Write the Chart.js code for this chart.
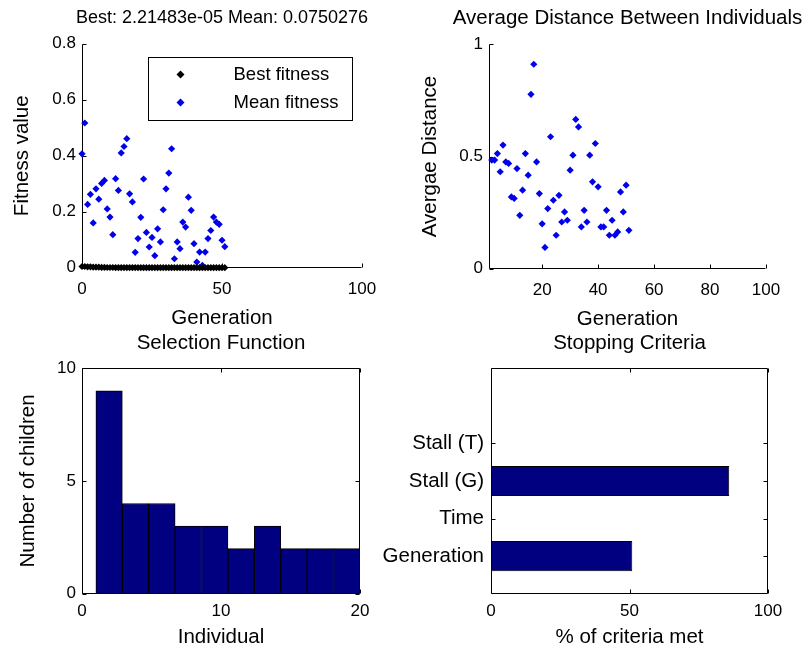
<!DOCTYPE html>
<html><head><meta charset="utf-8">
<script src="https://cdn.jsdelivr.net/npm/chart.js@4.4.1/dist/chart.umd.min.js"></script>
<style>
html,body{margin:0;padding:0;background:#fff;}
body{width:812px;height:653px;overflow:hidden;position:relative;}
canvas{position:absolute;}
</style></head><body>
<canvas id="fitness"></canvas>
<canvas id="distance"></canvas>
<canvas id="selection"></canvas>
<canvas id="stopping"></canvas>
<script>
// ---------------- data ----------------
const generations = [0,1,2,3,4,5,6,7,8,9,10,11,12,13,14,15,16,17,18,19,20,21,22,23,24,25,26,27,28,29,30,31,32,33,34,35,36,37,38,39,40,41,42,43,44,45,46,47,48,49,50,51];
const bestFitness = [0.0042,0.0042,0.0031,0.0031,0.0018,0.0018,0.0018,0.0011,0.0011,0.0008,0.0008,0.0008,0.0006,0.0006,0.0004,0.0004,0.0004,0.0003,0.0003,0.0003,0.0002,0.0002,0.0002,0.0002,0.0001,0.0001,0.0001,0.0001,0.0001,0.00008,0.00008,0.00008,0.00006,0.00006,0.00005,0.00005,0.00004,0.00004,0.00004,0.00003,0.00003,0.00003,0.00003,0.00003,0.00002,0.00002,0.00002,0.00002,0.00002,0.00002,0.00002,0.0000221483];
const meanFitness = [0.407,0.517,0.226,0.262,0.160,0.282,0.245,0.301,0.312,0.210,0.181,0.118,0.318,0.276,0.410,0.433,0.461,0.264,0.235,0.055,0.104,0.180,0.317,0.126,0.074,0.108,0.043,0.139,0.092,0.207,0.282,0.338,0.425,0.032,0.092,0.068,0.163,0.145,0.252,0.205,0.086,0.020,0.056,0.008,0.056,0.104,0.133,0.181,0.163,0.155,0.098,0.075];
const distanceGenerations = [2,3,4,5,6,7,8,9,10,11,12,13,14,15,16,17,18,19,20,21,22,23,24,25,26,27,28,29,30,31,32,33,34,35,36,37,38,39,40,41,42,43,44,45,46,47,48,49,50,51];
const averageDistance = [0.484,0.484,0.513,0.432,0.551,0.476,0.469,0.320,0.313,0.446,0.238,0.350,0.513,0.417,0.777,0.911,0.476,0.335,0.200,0.095,0.268,0.588,0.305,0.149,0.327,0.208,0.253,0.216,0.439,0.506,0.665,0.632,0.186,0.260,0.208,0.506,0.387,0.558,0.365,0.186,0.186,0.260,0.149,0.216,0.149,0.164,0.342,0.253,0.372,0.171];
const individualBins = [1.95,3.85,5.75,7.65,9.55,11.45,13.35,15.25,17.15,19.05];
const childrenCounts = [9,4,4,3,3,2,3,2,2,2];
const stoppingCriteria = ['Generation','Time','Stall (G)','Stall (T)'];
const criteriaMet = [51,0,86,0];

// ---------------- style ----------------
const FAMILY = '"Liberation Sans", Arial, Helvetica, sans-serif';
const NUM = {family: FAMILY, size: 17, weight: 'normal'};
const WORD = {family: FAMILY, size: 20.5, weight: 'normal'};
const HEAD = {family: FAMILY, size: 18, weight: 'normal'};
const lh = f => f.size * 1.2;
Chart.defaults.font.family = FAMILY;
Chart.defaults.font.size = NUM.size;
Chart.defaults.color = '#000';
const BLUE = 'rgb(0,0,235)', NAVY = '#000080';

// MATLAB style axes: lines, optional box, inward tick marks
const framePlugin = {
  id: 'frame',
  beforeDatasetsDraw(chart, args, o) {
    const {ctx, chartArea: a, scales} = chart;
    const L = Math.round(a.left) + 0.5, R = Math.round(a.right) - 0.5;
    const T = Math.round(a.top) + 0.5, B = Math.round(a.bottom) - 0.5;
    const tl = o.tickLen || 4;
    ctx.save();
    ctx.strokeStyle = '#000'; ctx.lineWidth = 1;
    ctx.beginPath();
    ctx.moveTo(L, T); ctx.lineTo(L, B); ctx.lineTo(R, B);
    if (o.box) { ctx.lineTo(R, T); ctx.lineTo(L, T); }
    const xs = scales.x, ys = scales.y;
    xs.ticks.forEach(t => {
      if (t.label === '') return;
      const px = Math.round(xs.getPixelForValue(t.value)) + 0.5;
      ctx.moveTo(px, B); ctx.lineTo(px, B - tl);
      if (o.box) { ctx.moveTo(px, T); ctx.lineTo(px, T + tl); }
    });
    ys.ticks.forEach(t => {
      if (t.label === '') return;
      const py = Math.round(ys.getPixelForValue(t.value)) + 0.5;
      ctx.moveTo(L, py); ctx.lineTo(L + tl, py);
      if (o.box) { ctx.moveTo(R, py); ctx.lineTo(R - tl, py); }
    });
    ctx.stroke();
    ctx.restore();
  }
};
Chart.register(framePlugin);

const numLabel = v => String(+Number(v).toFixed(3));

function panel(p) {
  const cv = document.getElementById(p.id);
  const canvasLeft = p.box.x - p.L;
  const w = 2 * p.L + p.box.w;
  cv.width = w; cv.height = 420;
  const titleFont = p.titleFont || WORD;
  const x = Object.assign({
    type: 'linear', position: 'bottom', offset: false,
    border: {display: false}, grid: {display: false, drawTicks: false},
    title: {display: true, text: p.xTitle, padding: 0, font: WORD},
    afterFit: s => { s.height = p.xTitleOff + lh(WORD) / 2; }
  }, p.x);
  x.ticks = Object.assign({padding: p.xTickOff - lh(NUM) / 2, font: NUM, maxRotation: 0, callback: numLabel}, p.x.ticks || {});
  const y = Object.assign({
    type: 'linear', position: 'left', offset: false,
    border: {display: false}, grid: {display: false, drawTicks: false},
    title: p.yTitle ? {display: true, text: p.yTitle, font: WORD,
      padding: {top: p.yTitleX - canvasLeft - lh(WORD) / 2, bottom: 0}} : {display: false},
    afterFit: s => { s.width = p.L; }
  }, p.y);
  y.ticks = Object.assign({padding: p.yTickPad, font: NUM, callback: numLabel}, p.y.ticks || {});
  const spacer = {type: 'linear', position: 'right', display: true, min: 0, max: 1,
    ticks: {display: false}, grid: {display: false, drawTicks: false}, border: {display: false},
    afterFit: s => { s.width = p.L; }};
  const cfg = {
    type: p.type,
    data: {datasets: p.datasets},
    options: {
      responsive: false, maintainAspectRatio: false, animation: false,
      indexAxis: p.indexAxis || 'x',
      layout: {padding: 0, autoPadding: false},
      events: [],
      plugins: {
        title: {display: true, text: p.title, color: '#000', font: titleFont,
          padding: {top: 2, bottom: p.titleOff - lh(titleFont) / 2}},
        legend: p.legend || {display: false},
        tooltip: {enabled: false},
        frame: {box: !!p.frame, tickLen: 4}
      },
      scales: {x: x, y: y, spacer: spacer}
    },
    plugins: p.plugins || []
  };
  const ch = new Chart(cv, cfg);
  const a = ch.chartArea;
  const h = Math.round(a.top + p.box.h + (ch.height - a.bottom));
  ch.resize(w, h);
  ch.update('none');
  const a2 = ch.chartArea;
  cv.style.left = (p.box.x - a2.left) + 'px';
  cv.style.top = (p.box.y - a2.top) + 'px';
  return ch;
}

// legend marker images (diamonds)
function diamond(color, r) {
  const c = document.createElement('canvas');
  const s = 2 * r + 1; c.width = c.height = s;
  const g = c.getContext('2d');
  g.fillStyle = color; g.beginPath();
  g.moveTo(s / 2, s / 2 - r); g.lineTo(s / 2 + r, s / 2); g.lineTo(s / 2, s / 2 + r); g.lineTo(s / 2 - r, s / 2);
  g.closePath(); g.fill();
  return c;
}
const legendMarks = [diamond('#000', 4), diamond(BLUE, 4)];
// legend frame (relative to the plot area) and item layout
const LEG = {dx: 66, dy: 13, w: 204, h: 63, fs: 18.5, rowGap: 28, firstRow: 17, markX: 32, textX: 85};
LEG.pad = LEG.rowGap - LEG.fs;
LEG.pw = 2 * (LEG.textX - LEG.markX - LEG.fs / 2);
const legendBoxPlugin = {
  id: 'legendBox',
  beforeDraw(chart) {
    const a = chart.chartArea, lg = chart.legend, ctx = chart.ctx;
    const bx = Math.round(a.left + LEG.dx) + 0.5, by = Math.round(a.top + LEG.dy) + 0.5;
    ctx.save();
    ctx.fillStyle = '#fff'; ctx.fillRect(bx, by, LEG.w, LEG.h);
    ctx.strokeStyle = '#000'; ctx.lineWidth = 1; ctx.strokeRect(bx, by, LEG.w, LEG.h);
    ctx.restore();
    lg.left = bx + LEG.markX - LEG.pad - LEG.pw / 2;
    lg.top = by + LEG.firstRow - LEG.pad - LEG.fs / 2;
    lg.right = lg.left + 300; lg.bottom = lg.top + 120;
  }
};

// ---------------- panels ----------------
panel({
  id: 'fitness', type: 'scatter', L: 82,
  box: {x: 82, y: 44, w: 280, h: 224},
  title: 'Best: 2.21483e-05 Mean: 0.0750276', titleFont: HEAD, titleOff: 26,
  xTitle: 'Generation', xTickOff: 22, xTitleOff: 51,
  yTitle: 'Fitness value', yTitleX: 22, yTickPad: 6,
  x: {min: 0, max: 100, ticks: {stepSize: 50}},
  y: {min: 0, max: 0.8, ticks: {stepSize: 0.2}},
  datasets: [
    {label: 'Best fitness', data: generations.map((g, i) => ({x: g, y: bestFitness[i]})),
     pointStyle: 'rectRot', pointRadius: 3.6, backgroundColor: '#000', borderColor: '#000', borderWidth: 0, clip: false},
    {label: 'Mean fitness', data: generations.map((g, i) => ({x: g, y: meanFitness[i]})),
     pointStyle: 'rectRot', pointRadius: 3.6, backgroundColor: BLUE, borderColor: BLUE, borderWidth: 0, clip: false}
  ],
  legend: {display: true, position: 'chartArea', align: 'start',
    labels: {usePointStyle: true, pointStyleWidth: LEG.pw, padding: LEG.pad, color: '#000',
      font: {family: FAMILY, size: LEG.fs},
      generateLabels(chart) {
        const items = Chart.defaults.plugins.legend.labels.generateLabels(chart);
        items.forEach((it, i) => { it.pointStyle = legendMarks[i]; });
        return items;
      }}},
  plugins: [legendBoxPlugin]
});

panel({
  id: 'distance', type: 'scatter', L: 90,
  box: {x: 489, y: 44, w: 277, h: 224},
  title: 'Average Distance Between Individuals', titleOff: 26,
  xTitle: 'Generation', xTickOff: 22, xTitleOff: 51,
  yTitle: 'Avergae Distance', yTitleX: 430, yTickPad: 6,
  x: {min: 1, max: 100, ticks: {stepSize: 20},
      afterBuildTicks: s => { s.ticks = s.ticks.filter(t => t.value % 20 === 0); }},
  y: {min: 0, max: 1, ticks: {stepSize: 0.5}},
  datasets: [
    {label: 'Average distance', data: distanceGenerations.map((g, i) => ({x: g, y: averageDistance[i]})),
     pointStyle: 'rectRot', pointRadius: 3.6, backgroundColor: BLUE, borderColor: BLUE, borderWidth: 0, clip: false}
  ]
});

panel({
  id: 'selection', type: 'bar', L: 82, frame: true,
  box: {x: 82, y: 368, w: 278, h: 225},
  title: 'Selection Function', titleOff: 25,
  xTitle: 'Individual', xTickOff: 18, xTitleOff: 44,
  yTitle: 'Number of children', yTitleX: 28, yTickPad: 6,
  x: {min: 0, max: 20, ticks: {stepSize: 10}},
  y: {min: 0, max: 10, ticks: {stepSize: 5}},
  datasets: [
    {label: 'Children', data: individualBins.map((b, i) => ({x: b, y: childrenCounts[i]})),
     backgroundColor: NAVY, borderColor: '#000', borderWidth: 1, borderSkipped: false,
     barPercentage: 1, categoryPercentage: 1}
  ]
});

panel({
  id: 'stopping', type: 'bar', L: 130, frame: true, indexAxis: 'y',
  box: {x: 491, y: 368, w: 277, h: 225},
  title: 'Stopping Criteria', titleOff: 25,
  xTitle: '% of criteria met', xTickOff: 18, xTitleOff: 44,
  yTitle: null, yTickPad: 7,
  x: {min: 0, max: 100, ticks: {stepSize: 50}},
  y: {min: 0, max: 6, ticks: {stepSize: 1, font: WORD, callback: v => stoppingCriteria[v - 1] || ''}},
  datasets: [
    {label: 'Criteria', data: criteriaMet.map((v, i) => ({x: v, y: i + 1})),
     backgroundColor: NAVY, borderColor: '#000', borderWidth: 1, borderSkipped: false,
     barPercentage: 0.8, categoryPercentage: 1}
  ]
});
</script>
</body></html>
